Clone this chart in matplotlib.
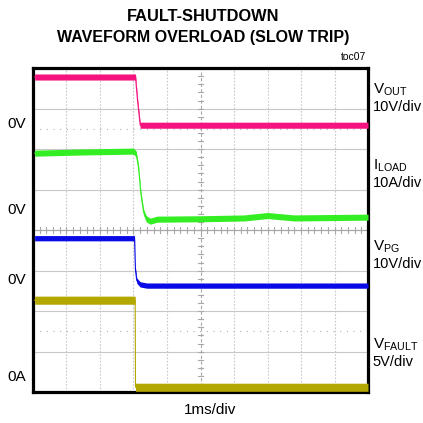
"""Fault-shutdown waveform, overload (slow trip) - scope capture recreation."""
import numpy as np
import matplotlib
matplotlib.use("Agg")
import matplotlib.pyplot as plt

plt.rcParams["font.family"] = ["Liberation Sans", "DejaVu Sans"]

# scope traces: time in divisions (1ms/div), level in divisions
vout_t = [0.05, 3.06, 3.12, 3.20, 10.0]
vout_y = [7.78, 7.78, 7.2, 6.59, 6.59]

iload_t = [0.05, 1.5, 3.0, 3.08, 3.15, 3.22, 3.30, 3.38, 3.50, 3.70, 5.0, 6.3, 7.0, 7.8, 10.0]
iload_y = [5.90, 5.93, 5.95, 5.88, 5.55, 4.90, 4.45, 4.28, 4.22, 4.27, 4.28, 4.30, 4.36, 4.30, 4.32]

vpg_t = [0.05, 3.03, 3.06, 3.10, 3.20, 3.40, 10.0]
vpg_y = [3.80, 3.80, 3.0, 2.75, 2.66, 2.63, 2.63]

vfault_t = [0.05, 3.05, 3.06, 10.0]
vfault_y = [2.27, 2.27, 0.12, 0.12]

traces = [
    (vout_t, vout_y, "#f5137f", 0.075),
    (iload_t, iload_y, "#33ee22", 0.075),
    (vpg_t, vpg_y, "#0a0ae6", 0.065),
    (vfault_t, vfault_y, "#b3a800", 0.10),
]

labels = [("V$_{\\rm OUT}$", "10V/div", 7.04),
          ("I$_{\\rm LOAD}$", "10A/div", 5.17),
          ("V$_{\\rm PG}$", "10V/div", 3.16),
          ("V$_{\\rm FAULT}$", "5V/div", 0.74)]
zero_labels = [("0V", 6.62), ("0V", 4.49), ("0V", 2.77), ("0A", 0.37)]

plt.rcParams["mathtext.fontset"] = "custom"
plt.rcParams["mathtext.rm"] = "Liberation Sans"

fig = plt.figure(figsize=(4.23, 4.23), dpi=100)
ax = fig.add_axes([0.078, 0.073, 0.792, 0.766])
ax.set_xlim(0, 10)
ax.set_ylim(0, 8)

# graticule
for x in range(1, 10):
    if x != 5:
        ax.axvline(x, color="#c8c8c8", lw=0.8, ls=(0, (1.5, 1.5)), zorder=1)
for y in range(1, 8):
    if y != 4:
        ax.axhline(y, color="#c8c8c8", lw=0.8, zorder=1)
for y in (6.5, 1.5):
    ax.axhline(y, color="#b0b0b0", lw=0.8, ls=(0, (1, 5)), zorder=1)
ax.axvline(5, color="#a8a8a8", lw=0.8, ls=(0, (3, 2)), zorder=1)
ax.axhline(4, color="#a8a8a8", lw=0.9, zorder=1)
for k in np.arange(0.2, 10, 0.2):
    ax.plot([k, k], [3.93, 4.07], color="#a8a8a8", lw=0.8, zorder=1)
for k in np.arange(0.2, 8, 0.2):
    ax.plot([4.93, 5.07], [k, k], color="#a8a8a8", lw=0.8, zorder=1)

for t, y, c, h in traces:
    t = np.array(t); y = np.array(y)
    ax.fill_between(t, y - h, y + h, color=c, lw=0, zorder=3)
    ax.plot(t, y, color=c, lw=0.8, zorder=3)

ax.set_xticks([]); ax.set_yticks([])
for s in ax.spines.values():
    s.set_linewidth(2.3)

for top, bot, yv in labels:
    ax.text(10.14, yv + 0.42, top, fontsize=11, va="center", ha="left")
    ax.text(10.14, yv, bot, fontsize=10.5, va="center", ha="left")
for txt, yv in zero_labels:
    ax.text(-0.22, yv, txt, fontsize=11, va="center", ha="right")

fig.text(0.48, 0.962, "FAULT-SHUTDOWN", fontsize=11.8, fontweight="bold",
         ha="center", va="center")
fig.text(0.48, 0.912, "WAVEFORM OVERLOAD (SLOW TRIP)", fontsize=11.5, fontweight="bold",
         ha="center", va="center")
fig.text(0.866, 0.866, "toc07", fontsize=7.5, ha="right", va="center")
fig.text(0.497, 0.03, "1ms/div", fontsize=11, ha="center", va="center")

fig.savefig("out.png", dpi=100)
